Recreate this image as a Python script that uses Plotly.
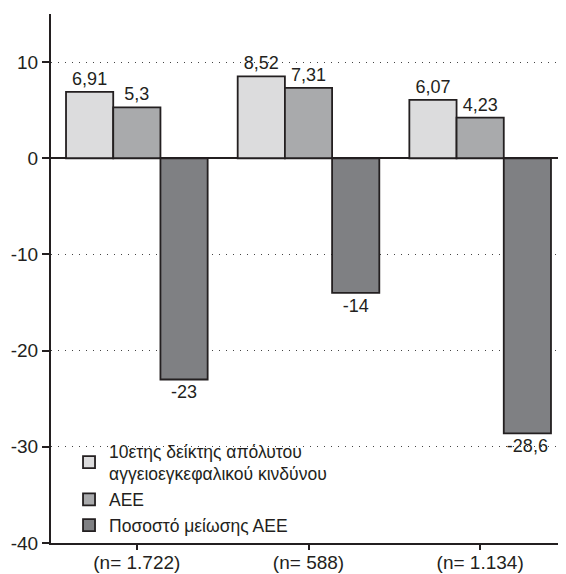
import plotly.graph_objects as go

categories = ["(n= 1.722)", "(n= 588)", "(n= 1.134)"]
series_names = ["10ετης δείκτης απόλυτου<br>αγγειοεγκεφαλικού κινδύνου", "ΑΕΕ", "Ποσοστό μείωσης ΑΕΕ"]
risk10 = [6.91, 8.52, 6.07]
aee = [5.3, 7.31, 4.23]
reduction = [-23, -14, -28.6]
risk10_labels = ["6,91", "8,52", "6,07"]
aee_labels = ["5,3", "7,31", "4,23"]
reduction_labels = ["-23", "-14", "-28,6"]
y_ticks = [-40, -30, -20, -10, 0, 10]
y_tick_labels = ["-40", "-30", "-20", "-10", "0", "10"]

colors = ["#dcdcdd", "#a9aaac", "#7f8083"]
x_pos = [0, 1, 2]

fig = go.Figure()
for name, vals, labels, col in zip(series_names, [risk10, aee, reduction],
                                   [risk10_labels, aee_labels, reduction_labels], colors):
    fig.add_trace(go.Bar(
        x=x_pos, y=vals, name=name, text=labels, textposition="outside",
        textfont=dict(size=18, color="#231f20"), cliponaxis=False,
        marker=dict(color=col, line=dict(color="#231f20", width=1.8)),
    ))

fig.update_layout(
    width=558, height=566,
    margin=dict(l=43, r=0, t=6, b=31),
    paper_bgcolor="white", plot_bgcolor="white",
    font=dict(family="Liberation Sans, Arial, sans-serif", size=17, color="#231f20"),
    barmode="group", bargap=0.175, bargroupgap=0,
    showlegend=True,
    legend=dict(x=0.035, y=0.208, xanchor="left", yanchor="top",
                bgcolor="rgba(0,0,0,0)", font=dict(size=17.5), traceorder="normal"),
)
fig.update_xaxes(range=[-0.5, 2.5], tickvals=x_pos, ticktext=categories,
                 ticks="outside", ticklen=5, tickwidth=1.5, tickcolor="#231f20",
                 showline=True, linecolor="#231f20", linewidth=2,
                 showgrid=False, zeroline=False, automargin=False,
                 ticklabelstandoff=-4,
                 tickfont=dict(size=19))
fig.update_yaxes(range=[-40, 15], tickvals=y_ticks, ticktext=y_tick_labels,
                 ticks="outside", ticklen=7, tickwidth=1.5, tickcolor="#231f20",
                 showline=True, linecolor="#231f20", linewidth=2,
                 showgrid=True, gridcolor="#444444", griddash="1px,6px", gridwidth=1.2,
                 zeroline=True, zerolinecolor="#231f20", zerolinewidth=1.5,
                 automargin=False, tickfont=dict(size=19))

fig.write_html("out.html")
